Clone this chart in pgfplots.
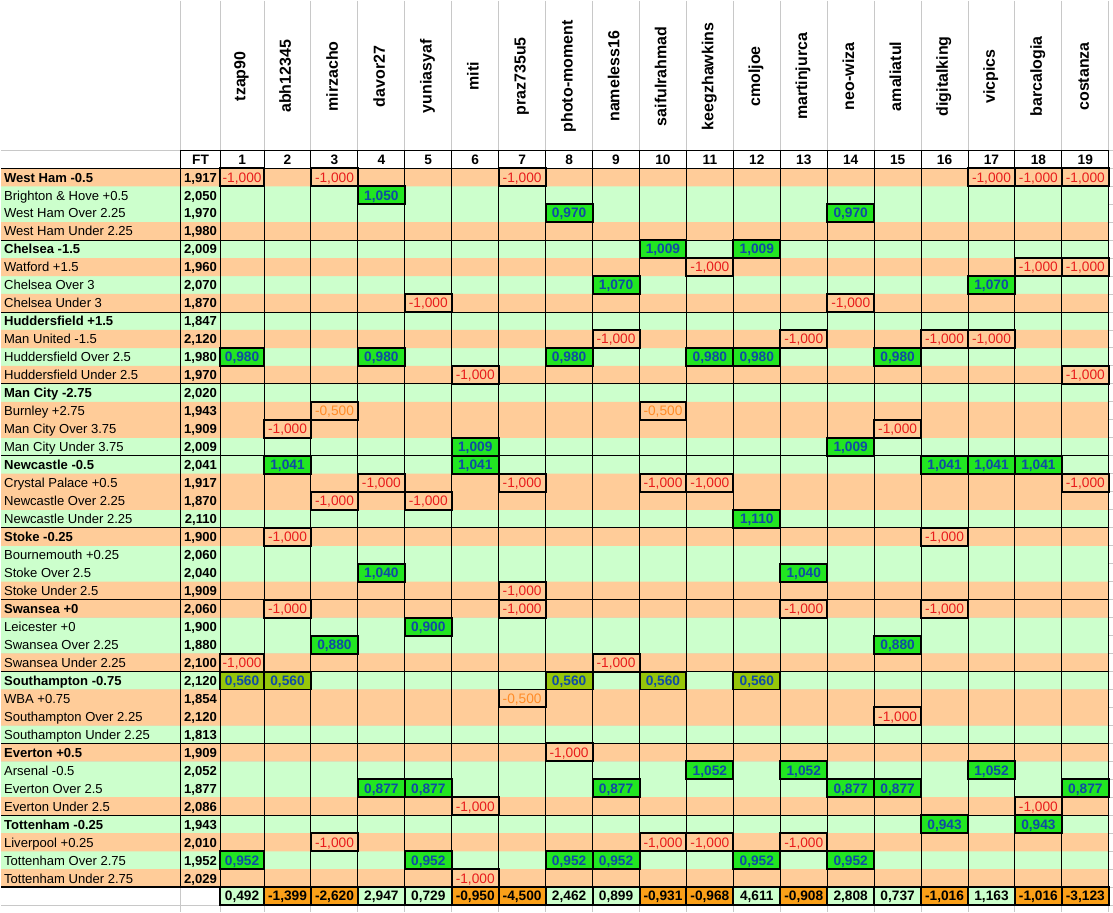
\documentclass[border=0pt]{standalone}
\usepackage{fontspec}
\setmainfont{Liberation Sans}
\usepackage{pgfplots}
\usepackage{pgfplotstable}
\pgfplotsset{compat=1.18}
\definecolor{rowgreen}{RGB}{204,255,204}
\definecolor{roworange}{RGB}{255,204,153}
\definecolor{winfill}{RGB}{34,230,34}
\definecolor{halffill}{RGB}{150,198,10}
\definecolor{wintext}{RGB}{15,75,165}
\definecolor{losstext}{RGB}{232,28,28}
\definecolor{halfloss}{RGB}{255,140,40}
\definecolor{totneg}{RGB}{250,160,25}
\definecolor{gridgray}{RGB}{200,200,200}
\newcommand{\colx}{ifthenelse(\thisrow{c}==1,241.3,192.8+47*\thisrow{c})}
\newcommand{\rowy}{159+18*\thisrow{r}}
\begin{document}
\begin{tikzpicture}
\begin{axis}[
  x=0.75pt, y=0.75pt, y dir=reverse,
  xmin=0, xmax=1113, ymin=0, ymax=913,
  hide axis, clip=false,
  txt/.style={draw=none, mark=none, nodes near coords, point meta=explicit symbolic,
    nodes near coords style={inner sep=0pt, text=black, text height=0.72em, text depth=0pt, #1}},
  cellbox/.style={draw=none, mark=none, nodes near coords, point meta=explicit symbolic,
    visualization depends on={ifthenelse(\thisrow{c}==1,33,35.25) \as \cw},
    nodes near coords style={anchor=center, inner sep=0pt, minimum height=13.5pt,
      minimum width=\cw pt, draw=black, line width=1.5pt, text height=0.72em, text depth=0pt, #1}},
]
% white page
\addplot[xbar, bar width=913, fill=white, draw=none] coordinates {(1113,456.5)};
% light spreadsheet grid
\pgfplotsinvokeforeach{180,219.3,263.3,310.3,357.3,404.3,451.3,498.3,545.3,592.3,639.3,686.3,733.3,780.3,827.3,874.3,921.3,968.3,1015.3,1062.3,1109.3}{
  \addplot[gridgray, line width=0.75pt] coordinates {(#1,0) (#1,913)};
}
\pgfplotsinvokeforeach{150,168,186,...,906}{
  \addplot[gridgray, line width=0.75pt] coordinates {(0,#1) (1113,#1)};
}
% row stripes
\addplot[xbar, bar width=18.2, fill=rowgreen, draw=none] table[x expr=1109.3, y expr=\rowy] {
r
2
3
5
7
9
11
13
16
17
20
22
23
26
27
29
32
34
35
37
39
};
\addplot[xbar, bar width=18.2, fill=roworange, draw=none] table[x expr=1109.3, y expr=\rowy] {
r
1
4
6
8
10
12
14
15
18
19
21
24
25
28
30
31
33
36
38
40
};
% black rules
\pgfplotsinvokeforeach{180,219.3,263.3,310.3,357.3,404.3,451.3,498.3,545.3,592.3,639.3,686.3,733.3,780.3,827.3,874.3,921.3,968.3,1015.3,1062.3,1109.3}{
  \addplot[black, line width=0.75pt] coordinates {(#1,150) (#1,888)};
}
\pgfplotsinvokeforeach{168,240,312,384,456,528,600,672,744,816}{
  \addplot[black, line width=0.75pt] coordinates {(0,#1) (1109.3,#1)};
}
\addplot[black, line width=0.75pt] coordinates {(180,150) (1109.3,150)};
\addplot[black, line width=1.7pt] coordinates {(0,888) (1109.3,888)};
% winning cells
\addplot[cellbox={fill=winfill, text=wintext, font=\bfseries\fontsize{10.3}{12}\selectfont}]
 table[x expr=\colx, y expr=\rowy, meta=v] {
c r v
4 2 1,050
8 3 0,970
14 3 0,970
10 5 1,009
12 5 1,009
9 7 1,070
17 7 1,070
1 11 0,980
4 11 0,980
8 11 0,980
11 11 0,980
12 11 0,980
15 11 0,980
6 16 1,009
14 16 1,009
2 17 1,041
6 17 1,041
16 17 1,041
17 17 1,041
18 17 1,041
12 20 1,110
4 23 1,040
13 23 1,040
5 26 0,900
3 27 0,880
15 27 0,880
11 34 1,052
13 34 1,052
17 34 1,052
4 35 0,877
5 35 0,877
9 35 0,877
14 35 0,877
15 35 0,877
19 35 0,877
16 37 0,943
18 37 0,943
1 39 0,952
5 39 0,952
8 39 0,952
9 39 0,952
12 39 0,952
14 39 0,952
};
% half-won cells
\addplot[cellbox={fill=halffill, text=wintext, font=\bfseries\fontsize{10.3}{12}\selectfont}]
 table[x expr=\colx, y expr=\rowy, meta=v] {
c r v
1 29 0,560
2 29 0,560
8 29 0,560
10 29 0,560
12 29 0,560
};
% lost cells
\addplot[cellbox={fill=none, text=losstext, font=\fontsize{10.3}{12}\selectfont}]
 table[x expr=\colx, y expr=\rowy, meta=v] {
c r v
1 1 -1,000
3 1 -1,000
7 1 -1,000
17 1 -1,000
18 1 -1,000
19 1 -1,000
11 6 -1,000
18 6 -1,000
19 6 -1,000
5 8 -1,000
14 8 -1,000
9 10 -1,000
13 10 -1,000
16 10 -1,000
17 10 -1,000
6 12 -1,000
19 12 -1,000
2 15 -1,000
15 15 -1,000
4 18 -1,000
7 18 -1,000
10 18 -1,000
11 18 -1,000
19 18 -1,000
3 19 -1,000
5 19 -1,000
2 21 -1,000
16 21 -1,000
7 24 -1,000
2 25 -1,000
7 25 -1,000
13 25 -1,000
16 25 -1,000
1 28 -1,000
9 28 -1,000
15 31 -1,000
8 33 -1,000
6 36 -1,000
18 36 -1,000
3 38 -1,000
10 38 -1,000
11 38 -1,000
13 38 -1,000
6 40 -1,000
};
% half-lost cells
\addplot[cellbox={fill=none, text=halfloss, font=\fontsize{10.3}{12}\selectfont}]
 table[x expr=\colx, y expr=\rowy, meta=v] {
c r v
3 14 -0,500
10 14 -0,500
7 30 -0,500
};
% totals
\addplot[cellbox={fill=rowgreen, text=black, font=\bfseries\fontsize{10.3}{12}\selectfont}]
 table[x expr=\colx, y expr=897, meta=v] {
c v
1 0,492
4 2,947
5 0,729
8 2,462
9 0,899
12 4,611
14 2,808
15 0,737
17 1,163
};
\addplot[cellbox={fill=totneg, text=black, font=\bfseries\fontsize{10.3}{12}\selectfont}]
 table[x expr=\colx, y expr=897, meta=v] {
c v
2 -1,399
3 -2,620
6 -0,950
7 -4,500
10 -0,931
11 -0,968
13 -0,908
16 -1,016
18 -1,016
19 -3,123
};
% player names
\addplot[txt={anchor=center, rotate=90, text depth=0.21em, font=\bfseries\fontsize{12}{14}\selectfont}]
 table[x expr=\colx, y expr=76, meta=n] {
c n
1 tzap90
2 abh12345
3 mirzacho
4 davor27
5 yuniasyaf
6 miti
7 praz735u5
8 photo-moment
9 nameless16
10 saifulrahmad
11 keegzhawkins
12 cmoljoe
13 martinjurca
14 neo-wiza
15 amaliatul
16 digitalking
17 vicpics
18 barcalogia
19 costanza
};
% column numbers
\addplot[txt={anchor=center, font=\bfseries\fontsize{10.3}{12}\selectfont}]
 table[x expr=\colx, y expr=159, meta=c] {
c
1
2
3
4
5
6
7
8
9
10
11
12
13
14
15
16
17
18
19
};
\addplot[txt={anchor=center, font=\bfseries\fontsize{10.3}{12}\selectfont}]
 coordinates {(199.7,159) [FT]};
% row labels
\addplot[txt={anchor=west, font=\bfseries\fontsize{9.8}{11}\selectfont}]
 table[col sep=semicolon, x expr=2.7, y expr=\rowy, meta=t] {
r;t
1;West Ham -0.5
5;Chelsea -1.5
9;Huddersfield +1.5
13;Man City -2.75
17;Newcastle -0.5
21;Stoke -0.25
25;Swansea +0
29;Southampton -0.75
33;Everton +0.5
37;Tottenham -0.25
};
\addplot[txt={anchor=west, font=\fontsize{9.8}{11}\selectfont}]
 table[col sep=semicolon, x expr=2.7, y expr=\rowy, meta=t] {
r;t
2;Brighton \& Hove +0.5
3;West Ham Over 2.25
4;West Ham Under 2.25
6;Watford +1.5
7;Chelsea Over 3
8;Chelsea Under 3
10;Man United -1.5
11;Huddersfield Over 2.5
12;Huddersfield Under 2.5
14;Burnley +2.75
15;Man City Over 3.75
16;Man City Under 3.75
18;Crystal Palace +0.5
19;Newcastle Over 2.25
20;Newcastle Under 2.25
22;Bournemouth +0.25
23;Stoke Over 2.5
24;Stoke Under 2.5
26;Leicester +0
27;Swansea Over 2.25
28;Swansea Under 2.25
30;WBA +0.75
31;Southampton Over 2.25
32;Southampton Under 2.25
34;Arsenal -0.5
35;Everton Over 2.5
36;Everton Under 2.5
38;Liverpool +0.25
39;Tottenham Over 2.75
40;Tottenham Under 2.75
};
% FT odds
\addplot[txt={anchor=east, font=\bfseries\fontsize{9.8}{11}\selectfont}]
 table[x expr=216.3, y expr=\rowy, meta=v] {
r v
1 1,917
2 2,050
3 1,970
4 1,980
5 2,009
6 1,960
7 2,070
8 1,870
9 1,847
10 2,120
11 1,980
12 1,970
13 2,020
14 1,943
15 1,909
16 2,009
17 2,041
18 1,917
19 1,870
20 2,110
21 1,900
22 2,060
23 2,040
24 1,909
25 2,060
26 1,900
27 1,880
28 2,100
29 2,120
30 1,854
31 2,120
32 1,813
33 1,909
34 2,052
35 1,877
36 2,086
37 1,943
38 2,010
39 1,952
40 2,029
};
\end{axis}
\end{tikzpicture}
\end{document}
